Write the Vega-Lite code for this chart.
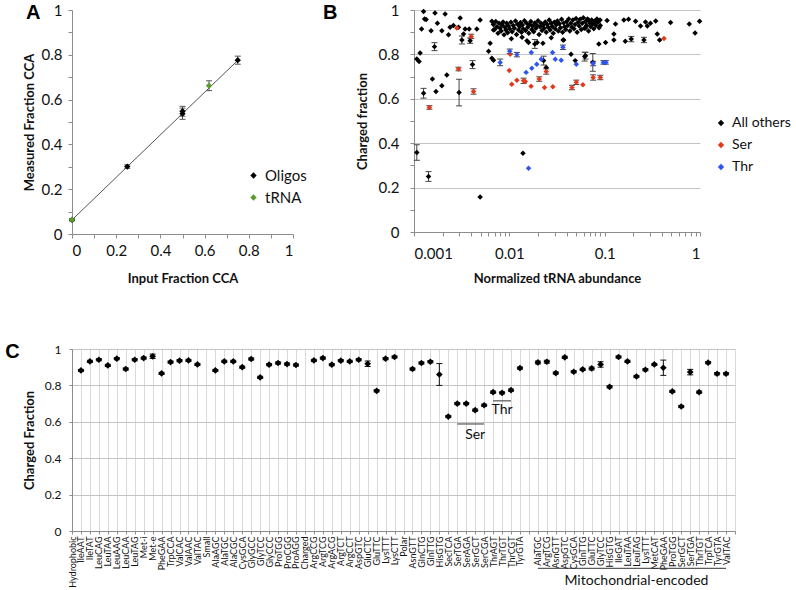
{
  "$schema": "https://vega.github.io/schema/vega-lite/v6.json",
  "background": "white",
  "padding": {"left": 5, "top": 3, "right": 0, "bottom": 0},
  "columns": 1,
  "align": "none",
  "spacing": 57,
  "resolve": {"scale": {"color": "independent"}},
  "concat": [
    {
      "spacing": 16,
      "resolve": {"scale": {"color": "independent"}},
      "hconcat": [
        {
          "width": 221,
          "height": 224,
          "title": {"text": "A", "offset": -20, "dx": 3},
          "data": {"name": "fitA"},
          "encoding": {
            "x": {
              "field": "x",
              "type": "quantitative",
              "scale": {"domain": [0, 1]},
              "axis": {
                "values": [0, 0.1, 0.2, 0.3, 0.4, 0.5, 0.6, 0.7, 0.8, 0.9, 1],
                "labelExpr": "round(datum.value*10)%2==0 ? format(datum.value,'~g') : ''",
                "labelPadding": 5,
                "title": "Input Fraction CCA",
                "titlePadding": 14
              }
            },
            "y": {
              "field": "y",
              "type": "quantitative",
              "title": "Measured Fraction CCA",
              "scale": {"domain": [0, 1]},
              "axis": {
                "values": [0, 0.1, 0.2, 0.3, 0.4, 0.5, 0.6, 0.7, 0.8, 0.9, 1],
                "labelExpr": "round(datum.value*10)%2==0 ? format(datum.value,'~g') : ''",
                "labelPadding": 6,
                "titlePadding": 5
              }
            }
          },
          "layer": [
            {
              "data": {"values": [{"x": 0, "y": 0.063}, {"x": 0.75, "y": 0.775}]},
              "mark": {"type": "line", "color": "#555555", "strokeWidth": 1}
            },
            {
              "mark": {"type": "rule", "color": "#555555"},
              "encoding": {
                "y": {"field": "lo", "type": "quantitative", "title": "Measured Fraction CCA"},
                "y2": {"field": "hi"}
              }
            },
            {
              "mark": {"type": "point", "shape": "M-1,0L1,0", "size": 36, "filled": false, "color": "#555555", "strokeWidth": 1, "opacity": 1},
              "encoding": {"y": {"field": "lo", "type": "quantitative", "title": "Measured Fraction CCA"}}
            },
            {
              "mark": {"type": "point", "shape": "M-1,0L1,0", "size": 36, "filled": false, "color": "#555555", "strokeWidth": 1, "opacity": 1},
              "encoding": {"y": {"field": "hi", "type": "quantitative", "title": "Measured Fraction CCA"}}
            },
            {
              "mark": {"type": "point", "shape": "diamond", "filled": true, "size": 40, "opacity": 1},
              "encoding": {
                "color": {
                  "field": "g",
                  "type": "nominal",
                  "scale": {"domain": ["Oligos", "tRNA"], "range": ["#000000", "#5b9a2c"]},
                  "legend": {"title": null, "orient": "none", "legendX": 174, "legendY": 158, "rowPadding": 6, "labelFontSize": 15}
                }
              }
            }
          ]
        },
        {
          "width": 286,
          "height": 222,
          "title": {"text": "B", "offset": -20, "dx": -33},
          "data": {"name": "abund"},
          "encoding": {
            "x": {
              "field": "x",
              "type": "quantitative",
              "scale": {"type": "log", "domain": [0.001, 1], "nice": false},
              "axis": {
                "values": [0.001, 0.002, 0.003, 0.004, 0.005, 0.006, 0.007, 0.008, 0.009, 0.01, 0.02, 0.03, 0.04, 0.05, 0.06, 0.07, 0.08, 0.09, 0.1, 0.2, 0.3, 0.4, 0.5, 0.6, 0.7, 0.8, 0.9, 1],
                "labelExpr": "indexof([0.001, 0.01, 0.1, 1], datum.value) >= 0 ? format(datum.value,'~g') : ''",
                "labelPadding": 10,
                "title": "Normalized tRNA abundance",
                "titlePadding": 11
              }
            },
            "y": {
              "field": "y",
              "type": "quantitative",
              "title": "Charged fraction",
              "scale": {"domain": [0, 1]},
              "axis": {
                "values": [0, 0.1, 0.2, 0.3, 0.4, 0.5, 0.6, 0.7, 0.8, 0.9, 1],
                "labelExpr": "round(datum.value*10)%2==0 ? format(datum.value,'~g') : ''",
                "labelPadding": 11,
                "grid": true,
                "gridColor": "#c4c4c4",
                "gridOpacity": {"condition": {"test": "round(datum.value*10)%2==0 && datum.value > 0", "value": 1}, "value": 0},
                "titlePadding": 9
              }
            }
          },
          "layer": [
            {
              "transform": [{"filter": {"field": "lo", "valid": true}}],
              "mark": {"type": "rule", "color": "#444444"},
              "encoding": {
                "y": {"field": "lo", "type": "quantitative", "title": "Charged fraction"},
                "y2": {"field": "hi"}
              }
            },
            {
              "transform": [{"filter": {"field": "lo", "valid": true}}],
              "mark": {"type": "point", "shape": "M-1,0L1,0", "size": 36, "filled": false, "color": "#444444", "strokeWidth": 1, "opacity": 1},
              "encoding": {"y": {"field": "lo", "type": "quantitative", "title": "Charged fraction"}}
            },
            {
              "transform": [{"filter": {"field": "hi", "valid": true}}],
              "mark": {"type": "point", "shape": "M-1,0L1,0", "size": 36, "filled": false, "color": "#444444", "strokeWidth": 1, "opacity": 1},
              "encoding": {"y": {"field": "hi", "type": "quantitative", "title": "Charged fraction"}}
            },
            {
              "mark": {"type": "point", "shape": "diamond", "filled": true, "size": 30, "opacity": 1},
              "encoding": {
                "color": {
                  "field": "g",
                  "type": "nominal",
                  "scale": {"domain": ["All others", "Ser", "Thr"], "range": ["#000000", "#e2381c", "#2f55f0"]},
                  "legend": {"title": null, "orient": "none", "legendX": 300, "legendY": 106, "rowPadding": 8, "labelFontSize": 14}
                }
              }
            }
          ]
        }
      ]
    },
    {
      "width": 663,
      "height": 182,
      "title": {"text": "C", "offset": -19, "dx": -18},
      "encoding": {
        "x": {
          "field": "k",
          "type": "nominal",
          "sort": null,
          "scale": {
            "type": "point",
            "padding": 0,
            "domain": ["Hydrophobic", "IleAAT", "IleTAT", "LeuCAG", "LeuTAA", "LeuAAG", "LeuCAA", "LeuTAG", "Met-i", "Met-e", "PheGAA", "TrpCCA", "ValCAC", "ValAAC", "ValTAC", "Small", "AlaAGC", "AlaTGC", "AlaCGC", "CysGCA", "GlyGCC", "GlyTCC", "GlyCCC", "ProTGG", "ProCGG", "ProAGG", "Charged", "ArgCCG", "ArgTCG", "ArgACG", "ArgTCT", "ArgCCT", "AspGTC", "GluCTC", "GluTTC", "LysTTT", "LysCTT", "Polar", "AsnGTT", "GlnCTG", "GlnTTG", "HisGTG", "SecTCA", "SerTGA", "SerAGA", "SerGCT", "SerCGA", "ThrAGT", "ThrTGT", "ThrCGT", "TyrGTA", "gap", "mt_AlaTGC", "mt_ArgTCG", "mt_AsnGTT", "mt_AspGTC", "mt_CysGCA", "mt_GlnTTG", "mt_GluTTC", "mt_GlyTCC", "mt_HisGTG", "mt_IleGAT", "mt_LeuTAA", "mt_LeuTAG", "mt_LysTTT", "mt_MetCAT", "mt_PheGAA", "mt_ProTGG", "mt_SerGCT", "mt_SerTGA", "mt_ThrTGT", "mt_TrpTCA", "mt_TyrGTA", "mt_ValTAC", "end"]
          },
          "axis": {
            "title": null,
            "labelAngle": -90,
            "labelFontSize": 9,
            "labelPadding": 2,
            "tickSize": 3,
            "grid": true,
            "gridColor": "#dadada",
            "labelExpr": "datum.label == 'gap' || datum.label == 'end' ? '' : replace(datum.label, 'mt_', '')"
          }
        },
        "y": {
          "field": "v",
          "type": "quantitative",
          "title": "Charged Fraction",
          "scale": {"domain": [0, 1]},
          "axis": {
            "values": [0, 0.2, 0.4, 0.6, 0.8, 1],
            "format": "~g",
            "grid": true,
            "gridColor": "#c4c4c4",
            "tickSize": 3,
            "labelFontSize": 12,
            "labelPadding": 8,
            "titlePadding": 8
          }
        }
      },
      "layer": [
        {
          "data": {"name": "charged"},
          "mark": {"type": "rule", "color": "#111111"},
          "encoding": {
            "y": {"field": "lo", "type": "quantitative", "title": "Charged Fraction"},
            "y2": {"field": "hi"}
          }
        },
        {
          "data": {"name": "charged"},
          "mark": {"type": "point", "shape": "M-1,0L1,0", "size": 36, "filled": false, "color": "#111111", "strokeWidth": 1, "opacity": 1},
          "encoding": {"y": {"field": "lo", "type": "quantitative", "title": "Charged Fraction"}}
        },
        {
          "data": {"name": "charged"},
          "mark": {"type": "point", "shape": "M-1,0L1,0", "size": 36, "filled": false, "color": "#111111", "strokeWidth": 1, "opacity": 1},
          "encoding": {"y": {"field": "hi", "type": "quantitative", "title": "Charged Fraction"}}
        },
        {
          "data": {"name": "charged"},
          "mark": {"type": "point", "shape": "diamond", "filled": true, "size": 45, "color": "#000000", "opacity": 1}
        },
        {
          "data": {"values": [
            {"k": "SerTGA", "k2": "SerCGA", "v": 0.588},
            {"k": "ThrAGT", "k2": "ThrCGT", "v": 0.715},
            {"k": "mt_AlaTGC", "k2": "mt_ValTAC", "v": -0.205}
          ]},
          "mark": {"type": "rule", "color": "#333333", "strokeWidth": 1},
          "encoding": {"x2": {"field": "k2"}}
        },
        {
          "data": {"values": [
            {"k": "SerGCT", "v": 0.527, "t": "Ser"},
            {"k": "ThrTGT", "v": 0.665, "t": "Thr"},
            {"k": "mt_LeuTAG", "v": -0.272, "t": "Mitochondrial-encoded"}
          ]},
          "mark": {"type": "text", "font": "Lato", "fontSize": 14, "color": "#111111", "baseline": "middle"},
          "encoding": {"text": {"field": "t"}}
        }
      ]
    }
  ],
  "datasets": {
    "fitA": [
      {"x": 0, "y": 0.063, "g": "Oligos", "lo": 0.059, "hi": 0.067},
      {"x": 0.25, "y": 0.301, "g": "Oligos", "lo": 0.293, "hi": 0.309},
      {"x": 0.5, "y": 0.537, "g": "Oligos", "lo": 0.512, "hi": 0.562},
      {"x": 0.5, "y": 0.548, "g": "Oligos", "lo": 0.526, "hi": 0.57},
      {"x": 0.75, "y": 0.776, "g": "Oligos", "lo": 0.758, "hi": 0.794},
      {"x": 0, "y": 0.064, "g": "tRNA", "lo": 0.06, "hi": 0.068},
      {"x": 0.62, "y": 0.662, "g": "tRNA", "lo": 0.64, "hi": 0.684}
    ],
    "abund": [
      {"x": 0.00107, "y": 0.779, "g": "All others"},
      {"x": 0.00113, "y": 0.768, "g": "All others"},
      {"x": 0.00116, "y": 0.806, "g": "All others"},
      {"x": 0.0012, "y": 0.914, "g": "All others"},
      {"x": 0.00126, "y": 0.993, "g": "All others"},
      {"x": 0.00129, "y": 0.959, "g": "All others"},
      {"x": 0.00134, "y": 0.957, "g": "All others"},
      {"x": 0.00126, "y": 0.625, "g": "All others", "lo": 0.603, "hi": 0.647},
      {"x": 0.00151, "y": 0.907, "g": "All others"},
      {"x": 0.00156, "y": 0.689, "g": "All others"},
      {"x": 0.00164, "y": 0.835, "g": "All others", "lo": 0.817, "hi": 0.853},
      {"x": 0.00166, "y": 0.987, "g": "All others"},
      {"x": 0.0017, "y": 0.633, "g": "All others"},
      {"x": 0.00176, "y": 0.94, "g": "All others"},
      {"x": 0.00196, "y": 0.659, "g": "All others"},
      {"x": 0.00196, "y": 0.907, "g": "All others"},
      {"x": 0.00212, "y": 0.982, "g": "All others"},
      {"x": 0.00221, "y": 0.707, "g": "All others"},
      {"x": 0.0023, "y": 0.889, "g": "All others"},
      {"x": 0.00239, "y": 0.922, "g": "All others"},
      {"x": 0.00259, "y": 0.93, "g": "All others"},
      {"x": 0.00293, "y": 0.922, "g": "All others"},
      {"x": 0.00305, "y": 0.964, "g": "All others"},
      {"x": 0.00297, "y": 0.628, "g": "All others", "lo": 0.568, "hi": 0.688},
      {"x": 0.00318, "y": 0.865, "g": "All others", "lo": 0.847, "hi": 0.883},
      {"x": 0.00331, "y": 0.892, "g": "All others"},
      {"x": 0.00344, "y": 0.914, "g": "All others"},
      {"x": 0.00379, "y": 0.914, "g": "All others"},
      {"x": 0.00388, "y": 0.862, "g": "All others", "lo": 0.85, "hi": 0.874},
      {"x": 0.00411, "y": 0.754, "g": "All others", "lo": 0.736, "hi": 0.772},
      {"x": 0.00456, "y": 0.914, "g": "All others"},
      {"x": 0.00494, "y": 0.955, "g": "All others"},
      {"x": 0.00494, "y": 0.158, "g": "All others"},
      {"x": 0.00107, "y": 0.358, "g": "All others", "lo": 0.323, "hi": 0.393},
      {"x": 0.00142, "y": 0.25, "g": "All others", "lo": 0.228, "hi": 0.272},
      {"x": 0.00606, "y": 0.814, "g": "All others"},
      {"x": 0.00629, "y": 0.85, "g": "All others"},
      {"x": 0.00656, "y": 0.949, "g": "All others"},
      {"x": 0.00656, "y": 0.783, "g": "All others"},
      {"x": 0.00682, "y": 0.774, "g": "All others"},
      {"x": 0.00682, "y": 0.91, "g": "All others"},
      {"x": 0.0139, "y": 0.355, "g": "All others"},
      {"x": 0.0136, "y": 0.877, "g": "All others"},
      {"x": 0.0159, "y": 0.854, "g": "All others"},
      {"x": 0.0185, "y": 0.847, "g": "All others", "lo": 0.827, "hi": 0.867},
      {"x": 0.0196, "y": 0.854, "g": "All others"},
      {"x": 0.0229, "y": 0.772, "g": "All others", "lo": 0.752, "hi": 0.792},
      {"x": 0.0244, "y": 0.741, "g": "All others"},
      {"x": 0.0372, "y": 0.865, "g": "All others"},
      {"x": 0.0444, "y": 0.801, "g": "All others"},
      {"x": 0.0491, "y": 0.772, "g": "All others"},
      {"x": 0.0617, "y": 0.79, "g": "All others", "lo": 0.77, "hi": 0.81},
      {"x": 0.0751, "y": 0.764, "g": "All others", "lo": 0.724, "hi": 0.804},
      {"x": 0.0868, "y": 0.847, "g": "All others"},
      {"x": 0.063, "y": 0.794, "g": "All others", "lo": 0.779, "hi": 0.809},
      {"x": 0.1022, "y": 0.854, "g": "All others"},
      {"x": 0.125, "y": 0.865, "g": "All others"},
      {"x": 0.1647, "y": 0.859, "g": "All others"},
      {"x": 0.19, "y": 0.869, "g": "All others", "lo": 0.857, "hi": 0.881},
      {"x": 0.258, "y": 0.865, "g": "All others", "lo": 0.853, "hi": 0.877},
      {"x": 0.377, "y": 0.865, "g": "All others"},
      {"x": 0.356, "y": 0.892, "g": "All others"},
      {"x": 0.491, "y": 0.944, "g": "All others"},
      {"x": 0.772, "y": 0.937, "g": "All others"},
      {"x": 0.888, "y": 0.896, "g": "All others"},
      {"x": 0.99, "y": 0.949, "g": "All others"},
      {"x": 0.159, "y": 0.955, "g": "All others"},
      {"x": 0.178, "y": 0.958, "g": "All others"},
      {"x": 0.211, "y": 0.949, "g": "All others"},
      {"x": 0.238, "y": 0.928, "g": "All others"},
      {"x": 0.268, "y": 0.946, "g": "All others"},
      {"x": 0.302, "y": 0.94, "g": "All others"},
      {"x": 0.28, "y": 0.928, "g": "All others"},
      {"x": 0.343, "y": 0.95, "g": "All others"},
      {"x": 0.13, "y": 0.937, "g": "All others"},
      {"x": 0.125, "y": 0.892, "g": "All others"},
      {"x": 0.106, "y": 0.953, "g": "All others"},
      {"x": 0.09, "y": 0.93, "g": "All others"},
      {"x": 0.08, "y": 0.946, "g": "All others"},
      {"x": 0.068, "y": 0.955, "g": "All others"},
      {"x": 0.063, "y": 0.919, "g": "All others"},
      {"x": 0.0153, "y": 0.862, "g": "All others"},
      {"x": 0.0225, "y": 0.85, "g": "All others"},
      {"x": 0.0366, "y": 0.865, "g": "All others"},
      {"x": 0.0105, "y": 0.87, "g": "All others"},
      {"x": 0.0275, "y": 0.875, "g": "All others"},
      {"x": 0.0068, "y": 0.935, "g": "All others"},
      {"x": 0.007, "y": 0.912, "g": "All others"},
      {"x": 0.0072, "y": 0.948, "g": "All others"},
      {"x": 0.0074, "y": 0.925, "g": "All others"},
      {"x": 0.0076, "y": 0.895, "g": "All others"},
      {"x": 0.0078, "y": 0.94, "g": "All others"},
      {"x": 0.008, "y": 0.918, "g": "All others"},
      {"x": 0.0082, "y": 0.905, "g": "All others"},
      {"x": 0.0084, "y": 0.932, "g": "All others"},
      {"x": 0.0086, "y": 0.946, "g": "All others"},
      {"x": 0.0088, "y": 0.888, "g": "All others"},
      {"x": 0.009, "y": 0.922, "g": "All others"},
      {"x": 0.0092, "y": 0.91, "g": "All others"},
      {"x": 0.0094, "y": 0.94, "g": "All others"},
      {"x": 0.0096, "y": 0.898, "g": "All others"},
      {"x": 0.0098, "y": 0.928, "g": "All others"},
      {"x": 0.0101, "y": 0.915, "g": "All others"},
      {"x": 0.0104, "y": 0.945, "g": "All others"},
      {"x": 0.0107, "y": 0.902, "g": "All others"},
      {"x": 0.011, "y": 0.93, "g": "All others"},
      {"x": 0.0113, "y": 0.918, "g": "All others"},
      {"x": 0.0116, "y": 0.95, "g": "All others"},
      {"x": 0.0119, "y": 0.89, "g": "All others"},
      {"x": 0.0122, "y": 0.936, "g": "All others"},
      {"x": 0.0125, "y": 0.91, "g": "All others"},
      {"x": 0.0128, "y": 0.925, "g": "All others"},
      {"x": 0.0131, "y": 0.944, "g": "All others"},
      {"x": 0.0134, "y": 0.9, "g": "All others"},
      {"x": 0.0137, "y": 0.932, "g": "All others"},
      {"x": 0.014, "y": 0.915, "g": "All others"},
      {"x": 0.0144, "y": 0.952, "g": "All others"},
      {"x": 0.0148, "y": 0.908, "g": "All others"},
      {"x": 0.0152, "y": 0.94, "g": "All others"},
      {"x": 0.0156, "y": 0.922, "g": "All others"},
      {"x": 0.016, "y": 0.895, "g": "All others"},
      {"x": 0.0164, "y": 0.935, "g": "All others"},
      {"x": 0.0168, "y": 0.948, "g": "All others"},
      {"x": 0.0172, "y": 0.912, "g": "All others"},
      {"x": 0.0176, "y": 0.928, "g": "All others"},
      {"x": 0.018, "y": 0.902, "g": "All others"},
      {"x": 0.0185, "y": 0.942, "g": "All others"},
      {"x": 0.019, "y": 0.918, "g": "All others"},
      {"x": 0.0195, "y": 0.93, "g": "All others"},
      {"x": 0.02, "y": 0.952, "g": "All others"},
      {"x": 0.0205, "y": 0.89, "g": "All others"},
      {"x": 0.021, "y": 0.925, "g": "All others"},
      {"x": 0.0215, "y": 0.94, "g": "All others"},
      {"x": 0.022, "y": 0.908, "g": "All others"},
      {"x": 0.0226, "y": 0.932, "g": "All others"},
      {"x": 0.0232, "y": 0.918, "g": "All others"},
      {"x": 0.0238, "y": 0.946, "g": "All others"},
      {"x": 0.0244, "y": 0.9, "g": "All others"},
      {"x": 0.025, "y": 0.935, "g": "All others"},
      {"x": 0.0256, "y": 0.922, "g": "All others"},
      {"x": 0.0262, "y": 0.955, "g": "All others"},
      {"x": 0.0268, "y": 0.91, "g": "All others"},
      {"x": 0.0275, "y": 0.94, "g": "All others"},
      {"x": 0.0282, "y": 0.926, "g": "All others"},
      {"x": 0.0289, "y": 0.895, "g": "All others"},
      {"x": 0.0296, "y": 0.945, "g": "All others"},
      {"x": 0.0303, "y": 0.915, "g": "All others"},
      {"x": 0.0311, "y": 0.933, "g": "All others"},
      {"x": 0.0319, "y": 0.95, "g": "All others"},
      {"x": 0.0327, "y": 0.905, "g": "All others"},
      {"x": 0.0335, "y": 0.938, "g": "All others"},
      {"x": 0.0344, "y": 0.92, "g": "All others"},
      {"x": 0.0353, "y": 0.958, "g": "All others"},
      {"x": 0.0362, "y": 0.9, "g": "All others"},
      {"x": 0.0371, "y": 0.942, "g": "All others"},
      {"x": 0.038, "y": 0.925, "g": "All others"},
      {"x": 0.039, "y": 0.912, "g": "All others"},
      {"x": 0.04, "y": 0.948, "g": "All others"},
      {"x": 0.041, "y": 0.93, "g": "All others"},
      {"x": 0.042, "y": 0.96, "g": "All others"},
      {"x": 0.0431, "y": 0.905, "g": "All others"},
      {"x": 0.0442, "y": 0.94, "g": "All others"},
      {"x": 0.0453, "y": 0.922, "g": "All others"},
      {"x": 0.0465, "y": 0.955, "g": "All others"},
      {"x": 0.0477, "y": 0.915, "g": "All others"},
      {"x": 0.0489, "y": 0.935, "g": "All others"},
      {"x": 0.0501, "y": 0.962, "g": "All others"},
      {"x": 0.0514, "y": 0.9, "g": "All others"},
      {"x": 0.0527, "y": 0.945, "g": "All others"},
      {"x": 0.054, "y": 0.928, "g": "All others"},
      {"x": 0.0554, "y": 0.958, "g": "All others"},
      {"x": 0.0568, "y": 0.912, "g": "All others"},
      {"x": 0.0583, "y": 0.94, "g": "All others"},
      {"x": 0.0598, "y": 0.965, "g": "All others"},
      {"x": 0.0613, "y": 0.918, "g": "All others"},
      {"x": 0.0629, "y": 0.948, "g": "All others"},
      {"x": 0.0645, "y": 0.93, "g": "All others"},
      {"x": 0.0661, "y": 0.96, "g": "All others"},
      {"x": 0.0678, "y": 0.905, "g": "All others"},
      {"x": 0.0695, "y": 0.942, "g": "All others"},
      {"x": 0.0713, "y": 0.925, "g": "All others"},
      {"x": 0.0731, "y": 0.955, "g": "All others"},
      {"x": 0.075, "y": 0.938, "g": "All others"},
      {"x": 0.0769, "y": 0.915, "g": "All others"},
      {"x": 0.0789, "y": 0.95, "g": "All others"},
      {"x": 0.0809, "y": 0.93, "g": "All others"},
      {"x": 0.083, "y": 0.96, "g": "All others"},
      {"x": 0.0851, "y": 0.945, "g": "All others"},
      {"x": 0.0873, "y": 0.92, "g": "All others"},
      {"x": 0.0895, "y": 0.955, "g": "All others"},
      {"x": 0.00145, "y": 0.561, "g": "Ser", "lo": 0.553, "hi": 0.569},
      {"x": 0.00281, "y": 0.919, "g": "Ser"},
      {"x": 0.00293, "y": 0.734, "g": "Ser", "lo": 0.726, "hi": 0.742},
      {"x": 0.00398, "y": 0.881, "g": "Ser", "lo": 0.871, "hi": 0.891},
      {"x": 0.00421, "y": 0.633, "g": "Ser", "lo": 0.621, "hi": 0.645},
      {"x": 0.0102, "y": 0.801, "g": "Ser"},
      {"x": 0.00999, "y": 0.727, "g": "Ser"},
      {"x": 0.0106, "y": 0.666, "g": "Ser"},
      {"x": 0.012, "y": 0.684, "g": "Ser"},
      {"x": 0.0141, "y": 0.681, "g": "Ser", "lo": 0.669, "hi": 0.693},
      {"x": 0.0147, "y": 0.678, "g": "Ser"},
      {"x": 0.0169, "y": 0.657, "g": "Ser"},
      {"x": 0.0206, "y": 0.689, "g": "Ser", "lo": 0.679, "hi": 0.699},
      {"x": 0.0234, "y": 0.651, "g": "Ser"},
      {"x": 0.0244, "y": 0.723, "g": "Ser", "lo": 0.711, "hi": 0.735},
      {"x": 0.0286, "y": 0.654, "g": "Ser"},
      {"x": 0.0454, "y": 0.651, "g": "Ser", "lo": 0.641, "hi": 0.661},
      {"x": 0.0504, "y": 0.674, "g": "Ser", "lo": 0.664, "hi": 0.684},
      {"x": 0.0591, "y": 0.663, "g": "Ser"},
      {"x": 0.0757, "y": 0.696, "g": "Ser", "lo": 0.684, "hi": 0.708},
      {"x": 0.09, "y": 0.696, "g": "Ser", "lo": 0.686, "hi": 0.706},
      {"x": 0.419, "y": 0.872, "g": "Ser"},
      {"x": 0.00802, "y": 0.764, "g": "Thr", "lo": 0.749, "hi": 0.779},
      {"x": 0.0101, "y": 0.814, "g": "Thr", "lo": 0.804, "hi": 0.824},
      {"x": 0.012, "y": 0.799, "g": "Thr", "lo": 0.789, "hi": 0.809},
      {"x": 0.015, "y": 0.719, "g": "Thr"},
      {"x": 0.017, "y": 0.809, "g": "Thr"},
      {"x": 0.0172, "y": 0.738, "g": "Thr"},
      {"x": 0.0194, "y": 0.756, "g": "Thr"},
      {"x": 0.0216, "y": 0.778, "g": "Thr"},
      {"x": 0.0284, "y": 0.809, "g": "Thr"},
      {"x": 0.0303, "y": 0.778, "g": "Thr"},
      {"x": 0.035, "y": 0.774, "g": "Thr"},
      {"x": 0.0365, "y": 0.832, "g": "Thr", "lo": 0.822, "hi": 0.842},
      {"x": 0.0504, "y": 0.756, "g": "Thr"},
      {"x": 0.0757, "y": 0.759, "g": "Thr", "lo": 0.749, "hi": 0.769},
      {"x": 0.097, "y": 0.764, "g": "Thr", "lo": 0.756, "hi": 0.772},
      {"x": 0.103, "y": 0.764, "g": "Thr", "lo": 0.756, "hi": 0.772},
      {"x": 0.0159, "y": 0.287, "g": "Thr"}
    ],
    "charged": [
      {"k": "IleAAT", "v": 0.882, "lo": 0.876, "hi": 0.888},
      {"k": "IleTAT", "v": 0.932, "lo": 0.926, "hi": 0.938},
      {"k": "LeuCAG", "v": 0.941, "lo": 0.935, "hi": 0.947},
      {"k": "LeuTAA", "v": 0.91, "lo": 0.904, "hi": 0.916},
      {"k": "LeuAAG", "v": 0.947, "lo": 0.941, "hi": 0.953},
      {"k": "LeuCAA", "v": 0.89, "lo": 0.884, "hi": 0.896},
      {"k": "LeuTAG", "v": 0.941, "lo": 0.935, "hi": 0.947},
      {"k": "Met-i", "v": 0.95, "lo": 0.944, "hi": 0.956},
      {"k": "Met-e", "v": 0.96, "lo": 0.948, "hi": 0.972},
      {"k": "PheGAA", "v": 0.866, "lo": 0.86, "hi": 0.872},
      {"k": "TrpCCA", "v": 0.928, "lo": 0.922, "hi": 0.934},
      {"k": "ValCAC", "v": 0.936, "lo": 0.93, "hi": 0.942},
      {"k": "ValAAC", "v": 0.937, "lo": 0.931, "hi": 0.943},
      {"k": "ValTAC", "v": 0.915, "lo": 0.909, "hi": 0.921},
      {"k": "AlaAGC", "v": 0.882, "lo": 0.876, "hi": 0.888},
      {"k": "AlaTGC", "v": 0.932, "lo": 0.926, "hi": 0.938},
      {"k": "AlaCGC", "v": 0.932, "lo": 0.926, "hi": 0.938},
      {"k": "CysGCA", "v": 0.9, "lo": 0.894, "hi": 0.906},
      {"k": "GlyGCC", "v": 0.945, "lo": 0.939, "hi": 0.951},
      {"k": "GlyTCC", "v": 0.844, "lo": 0.838, "hi": 0.85},
      {"k": "GlyCCC", "v": 0.914, "lo": 0.908, "hi": 0.92},
      {"k": "ProTGG", "v": 0.923, "lo": 0.917, "hi": 0.929},
      {"k": "ProCGG", "v": 0.917, "lo": 0.911, "hi": 0.923},
      {"k": "ProAGG", "v": 0.912, "lo": 0.906, "hi": 0.918},
      {"k": "ArgCCG", "v": 0.937, "lo": 0.931, "hi": 0.943},
      {"k": "ArgTCG", "v": 0.95, "lo": 0.944, "hi": 0.956},
      {"k": "ArgACG", "v": 0.914, "lo": 0.908, "hi": 0.92},
      {"k": "ArgTCT", "v": 0.936, "lo": 0.93, "hi": 0.942},
      {"k": "ArgCCT", "v": 0.932, "lo": 0.926, "hi": 0.938},
      {"k": "AspGTC", "v": 0.941, "lo": 0.935, "hi": 0.947},
      {"k": "GluCTC", "v": 0.919, "lo": 0.904, "hi": 0.934},
      {"k": "GluTTC", "v": 0.77, "lo": 0.764, "hi": 0.776},
      {"k": "LysTTT", "v": 0.947, "lo": 0.941, "hi": 0.953},
      {"k": "LysCTT", "v": 0.956, "lo": 0.95, "hi": 0.962},
      {"k": "AsnGTT", "v": 0.89, "lo": 0.884, "hi": 0.896},
      {"k": "GlnCTG", "v": 0.923, "lo": 0.917, "hi": 0.929},
      {"k": "GlnTTG", "v": 0.93, "lo": 0.924, "hi": 0.936},
      {"k": "HisGTG", "v": 0.86, "lo": 0.8, "hi": 0.92},
      {"k": "SecTCA", "v": 0.629, "lo": 0.623, "hi": 0.635},
      {"k": "SerTGA", "v": 0.7, "lo": 0.694, "hi": 0.706},
      {"k": "SerAGA", "v": 0.7, "lo": 0.694, "hi": 0.706},
      {"k": "SerGCT", "v": 0.664, "lo": 0.658, "hi": 0.67},
      {"k": "SerCGA", "v": 0.691, "lo": 0.685, "hi": 0.697},
      {"k": "ThrAGT", "v": 0.763, "lo": 0.757, "hi": 0.769},
      {"k": "ThrTGT", "v": 0.759, "lo": 0.753, "hi": 0.765},
      {"k": "ThrCGT", "v": 0.774, "lo": 0.768, "hi": 0.78},
      {"k": "TyrGTA", "v": 0.895, "lo": 0.889, "hi": 0.901},
      {"k": "mt_AlaTGC", "v": 0.926, "lo": 0.918, "hi": 0.934},
      {"k": "mt_ArgTCG", "v": 0.93, "lo": 0.922, "hi": 0.938},
      {"k": "mt_AsnGTT", "v": 0.868, "lo": 0.862, "hi": 0.874},
      {"k": "mt_AspGTC", "v": 0.954, "lo": 0.948, "hi": 0.96},
      {"k": "mt_CysGCA", "v": 0.875, "lo": 0.869, "hi": 0.881},
      {"k": "mt_GlnTTG", "v": 0.888, "lo": 0.882, "hi": 0.894},
      {"k": "mt_GluTTC", "v": 0.893, "lo": 0.885, "hi": 0.901},
      {"k": "mt_GlyTCC", "v": 0.915, "lo": 0.9, "hi": 0.93},
      {"k": "mt_HisGTG", "v": 0.792, "lo": 0.786, "hi": 0.798},
      {"k": "mt_IleGAT", "v": 0.956, "lo": 0.95, "hi": 0.962},
      {"k": "mt_LeuTAA", "v": 0.932, "lo": 0.926, "hi": 0.938},
      {"k": "mt_LeuTAG", "v": 0.849, "lo": 0.843, "hi": 0.855},
      {"k": "mt_LysTTT", "v": 0.886, "lo": 0.88, "hi": 0.892},
      {"k": "mt_MetCAT", "v": 0.915, "lo": 0.909, "hi": 0.921},
      {"k": "mt_PheGAA", "v": 0.897, "lo": 0.855, "hi": 0.939},
      {"k": "mt_ProTGG", "v": 0.767, "lo": 0.761, "hi": 0.773},
      {"k": "mt_SerGCT", "v": 0.684, "lo": 0.678, "hi": 0.69},
      {"k": "mt_SerTGA", "v": 0.873, "lo": 0.858, "hi": 0.888},
      {"k": "mt_ThrTGT", "v": 0.763, "lo": 0.757, "hi": 0.769},
      {"k": "mt_TrpTCA", "v": 0.925, "lo": 0.919, "hi": 0.931},
      {"k": "mt_TyrGTA", "v": 0.864, "lo": 0.858, "hi": 0.87},
      {"k": "mt_ValTAC", "v": 0.864, "lo": 0.858, "hi": 0.87}
    ]
  },
  "config": {
    "view": {"stroke": null},
    "font": "Lato",
    "axis": {
      "labelFont": "Lato",
      "titleFont": "Lato",
      "labelFontSize": 15,
      "titleFontSize": 13,
      "titleFontWeight": "bold",
      "labelColor": "#111111",
      "titleColor": "#111111",
      "domainColor": "#8c8c8c",
      "tickColor": "#8c8c8c",
      "tickSize": 4,
      "labelPadding": 4,
      "grid": false
    },
    "legend": {
      "labelFont": "Lato",
      "labelFontSize": 15,
      "labelColor": "#111111",
      "symbolType": "diamond",
      "symbolSize": 40,
      "symbolStrokeWidth": 0
    },
    "title": {
      "font": "Liberation Sans",
      "fontSize": 20,
      "fontWeight": "bold",
      "color": "#000000",
      "anchor": "start",
      "frame": "bounds"
    }
  }
}
